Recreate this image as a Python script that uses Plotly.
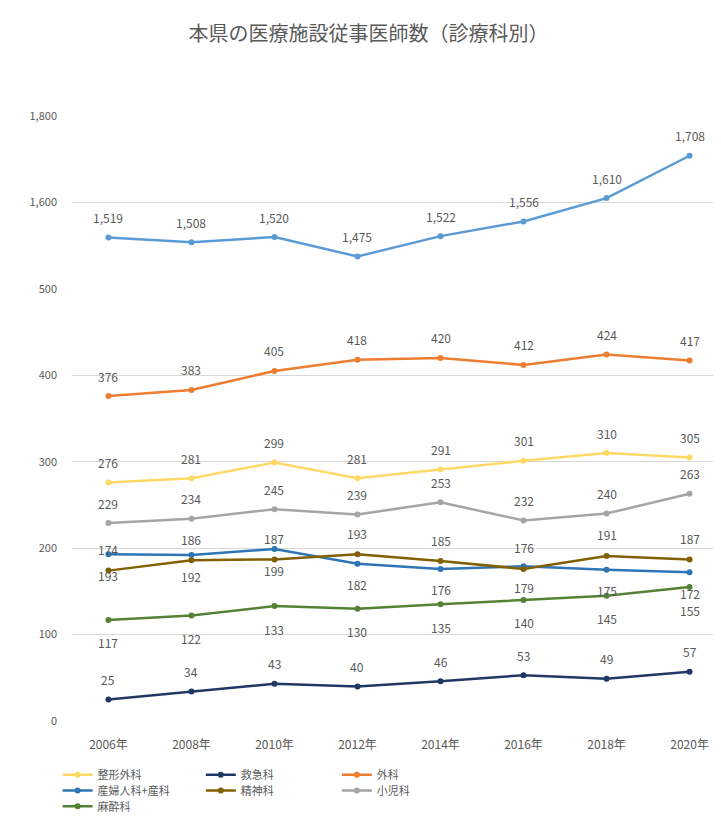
import plotly.graph_objects as go

years = ['2006年', '2008年', '2010年', '2012年', '2014年', '2016年', '2018年', '2020年']

naika = [1519, 1508, 1520, 1475, 1522, 1556, 1610, 1708]
geka = [376, 383, 405, 418, 420, 412, 424, 417]
seikei = [276, 281, 299, 281, 291, 301, 310, 305]
shoni = [229, 234, 245, 239, 253, 232, 240, 263]
sanfu = [193, 192, 199, 182, 176, 179, 175, 172]
seishin = [174, 186, 187, 193, 185, 176, 191, 187]
masui = [117, 122, 133, 130, 135, 140, 145, 155]
kyukyu = [25, 34, 43, 40, 46, 53, 49, 57]

low_ticks = [0, 100, 200, 300, 400, 500]
high_ticks = [1600, 1800]

FONT = 'Noto Sans CJK JP'
GREY = '#595959'

fig = go.Figure()

# legend slots: (column x in paper coords, row y in paper coords)
col_x = [-0.022, 0.197, 0.405]
row_y = [-0.089, -0.115, -0.141]


def add_line(values, name, color, shift, slot=None, yaxis='y'):
    legend = 'legend'
    if slot is not None:
        idx = slot[0] * 3 + slot[1] + 1
        legend = 'legend' if idx == 1 else f'legend{idx}'
        fig.layout[legend] = dict(
            x=col_x[slot[1]], y=row_y[slot[0]], xanchor='left', yanchor='middle',
            orientation='v', bgcolor='rgba(0,0,0,0)', itemwidth=30,
            font=dict(family=FONT, size=11, color=GREY),
        )
    fig.add_trace(go.Scatter(
        x=years,
        y=values,
        mode='lines+markers',
        name=name,
        line=dict(color=color, width=2.5),
        marker=dict(size=6, color=color),
        yaxis=yaxis,
        legend=legend,
        showlegend=slot is not None,
    ))
    for yr, v in zip(years, values):
        fig.add_annotation(
            x=yr, y=v, yref=yaxis, text=f'{v:,}', showarrow=False,
            yshift=shift, font=dict(family=FONT, size=12, color=GREY),
        )


add_line(naika, '内科', '#5B9BD5', 20, yaxis='y2')
add_line(seikei, '整形外科', '#FFD966', 20, (0, 0))
add_line(kyukyu, '救急科', '#203864', 20, (0, 1))
add_line(geka, '外科', '#ED7D31', 20, (0, 2))
add_line(sanfu, '産婦人科+産科', '#2E75B6', -21, (1, 0))
add_line(seishin, '精神科', '#806000', 21, (1, 1))
add_line(shoni, '小児科', '#A5A5A5', 20, (1, 2))
add_line(masui, '麻酔科', '#548235', -23, (2, 0))

fig.update_layout(
    title=dict(
        text='本県の医療施設従事医師数（診療科別）',
        x=0.5, xanchor='center', y=0.968, yanchor='middle',
        font=dict(family=FONT, size=20, color=GREY),
    ),
    width=721,
    height=816,
    paper_bgcolor='white',
    plot_bgcolor='white',
    margin=dict(l=64, r=3, t=108, b=99),
    xaxis=dict(
        showgrid=False, showline=False, ticks='',
        tickfont=dict(family=FONT, size=12, color=GREY),
        ticklabelstandoff=15,
    ),
    yaxis=dict(
        domain=[0, 5 / 7], range=[0, 500],
        tickvals=low_ticks, ticktext=[f'{v:,}' for v in low_ticks],
        showgrid=True, gridcolor='#D9D9D9', gridwidth=1, zeroline=False,
        tickfont=dict(family=FONT, size=11, color=GREY),
        ticklabelstandoff=14,
    ),
    yaxis2=dict(
        domain=[5 / 7, 1], range=[1400, 1800], anchor='x',
        tickvals=high_ticks, ticktext=[f'{v:,}' for v in high_ticks],
        showgrid=True, gridcolor='#D9D9D9', gridwidth=1, zeroline=False,
        tickfont=dict(family=FONT, size=11, color=GREY),
        ticklabelstandoff=14,
    ),
)

fig.write_html("out.html")
